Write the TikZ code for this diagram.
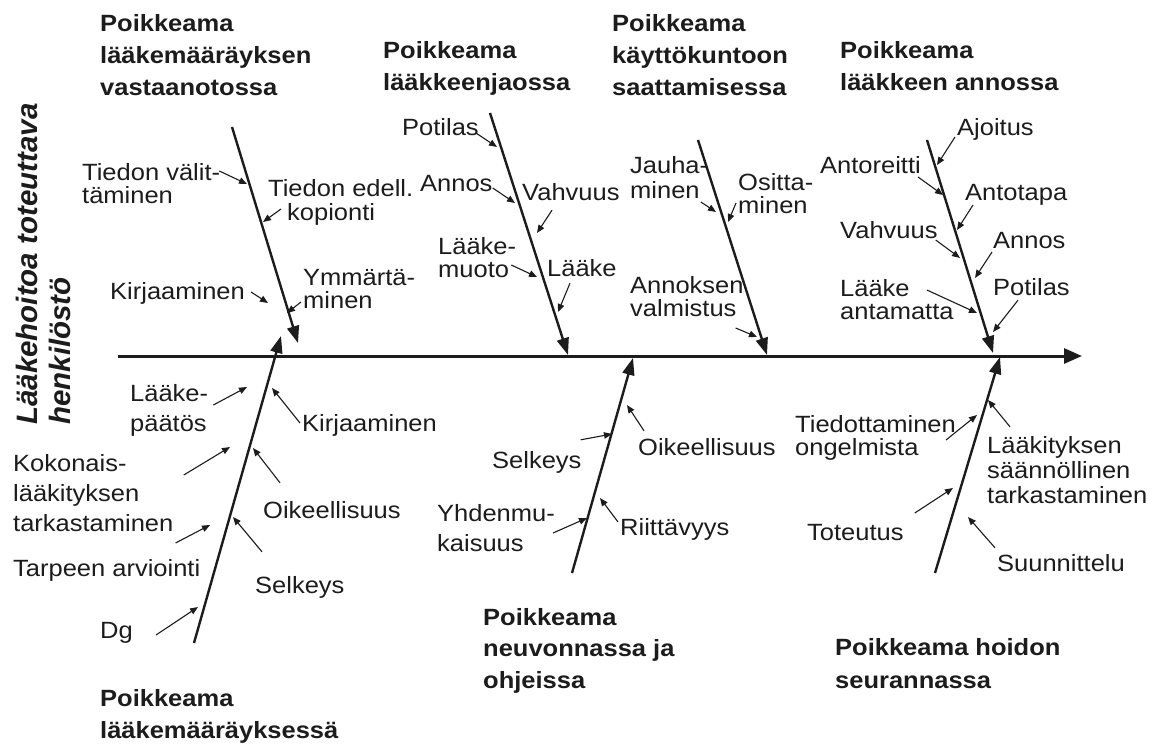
\documentclass[tikz,border=0pt]{standalone}
\usepackage{fontspec}
\setmainfont{Liberation Sans}[FakeStretch=1.085]
\newfontfamily\sidefont{Liberation Sans}
\usetikzlibrary{arrows.meta}
\definecolor{ink}{RGB}{28,28,28}
\tikzset{
  lbl/.style={anchor=west, inner sep=0pt, text height=15pt, text depth=3pt,
    text=ink, font=\fontsize{23.5}{28}\selectfont},
  ttl/.style={lbl, font=\fontsize{23.5}{28}\selectfont\bfseries},
  side/.style={rotate=90, anchor=base west, inner sep=0pt, text=ink,
    font={\sidefont\bfseries\itshape\fontsize{29.5}{33}\selectfont}},
  spine/.style={line width=3pt, draw=ink, -{Triangle[length=18pt,width=15pt]}},
  bone/.style={line width=2.4pt, draw=ink, -{Triangle[length=17pt,width=12pt]}},
  cause/.style={line width=1.1pt, draw=ink, -{Triangle[length=8pt,width=6.5pt]}},
}
\begin{document}
\begin{tikzpicture}[x=1pt,y=-1pt]
\useasboundingbox (0,0) rectangle (1162,744);
\fill[white] (0,0) rectangle (1162,744);

% side label
\node[side] (sd1) at (37,425) {Lääkehoitoa toteuttava};
\node[side] (sd2) at (70,425) {henkilöstö};

% spine
\coordinate (sp0) at (118,356);
\coordinate (sp1) at (1082,356);
\draw[spine] (sp0) -- (sp1);

% bones
\coordinate (b1s) at (232,127); \coordinate (b1e) at (298,343);
\coordinate (b2s) at (194,643); \coordinate (b2e) at (281,336);
\coordinate (b3s) at (490,113); \coordinate (b3e) at (568,355);
\coordinate (b4s) at (698,140); \coordinate (b4e) at (767,355);
\coordinate (b5s) at (927,140); \coordinate (b5e) at (993,353);
\coordinate (b6s) at (572,573); \coordinate (b6e) at (633,358);
\coordinate (b7s) at (935,573); \coordinate (b7e) at (1000,357);
\foreach \b in {1,...,7} \draw[bone] (b\b s) -- (b\b e);

% ---- prescription reception
\node[ttl] (t1a) at (100,25) {Poikkeama};
\node[ttl] (t1b) at (100,57) {lääkemääräyksen};
\node[ttl] (t1c) at (100,89) {vastaanotossa};
\node[lbl] (tv1) at (82,174) {Tiedon välit-};
\node[lbl] (tv2) at (82,197) {täminen};
\node[lbl] (te1) at (268,190) {Tiedon edell.};
\node[lbl] (te2) at (287,214) {kopionti};
\node[lbl] (kj1) at (110,293) {Kirjaaminen};
\node[lbl] (ym1) at (303,279) {Ymmärtä-};
\node[lbl] (ym2) at (303,302) {minen};
\coordinate (k11) at (247,184);
\coordinate (k12) at (263,222);
\coordinate (k13) at (268,303);
\coordinate (k14) at (287,313);
\draw[cause] ([xshift=-1pt,yshift=3pt]tv1.east) -- (k11);
\draw[cause] ([xshift=-6pt,yshift=5pt]te2.west) -- (k12);
\draw[cause] ([xshift=6pt,yshift=1pt]kj1.east) -- (k13);
\draw[cause] ([xshift=-2pt]ym2.west) -- (k14);

% ---- prescription
\node[ttl] (t2a) at (100,700) {Poikkeama};
\node[ttl] (t2b) at (100,732) {lääkemääräyksessä};
\node[lbl] (lp1) at (130,395) {Lääke-};
\node[lbl] (lp2) at (130,425) {päätös};
\node[lbl] (kj2) at (302,425) {Kirjaaminen};
\node[lbl] (ko1) at (13,465) {Kokonais-};
\node[lbl] (ko2) at (13,495) {lääkityksen};
\node[lbl] (ko3) at (13,525) {tarkastaminen};
\node[lbl] (oi1) at (263,512) {Oikeellisuus};
\node[lbl] (ta1) at (13,570) {Tarpeen arviointi};
\node[lbl] (se1) at (255,587) {Selkeys};
\node[lbl] (dg) at (100,632) {Dg};
\coordinate (k21) at (247,387);
\coordinate (k22) at (272,388);
\coordinate (k23) at (230,447);
\coordinate (k24) at (253,448);
\coordinate (k25) at (210,525);
\coordinate (k26) at (233,517);
\coordinate (k27) at (198,607);
\draw[cause] ([xshift=5pt,yshift=-10pt]lp1.east) -- (k21);
\draw[cause] ([xshift=-2pt,yshift=2pt]kj2.west) -- (k22);
\draw[cause] ([xshift=57pt,yshift=-10pt]ko1.east) -- (k23);
\draw[cause] ([xshift=17pt,yshift=20pt]oi1.north west) -- (k24);
\draw[cause] ([xshift=2pt,yshift=-18pt]ko3.east) -- (k25);
\draw[cause] ([xshift=7pt,yshift=26pt]se1.north west) -- (k26);
\draw[cause] ([xshift=23pt,yshift=-3pt]dg.east) -- (k27);

% ---- dispensing
\node[ttl] (t3a) at (383,52) {Poikkeama};
\node[ttl] (t3b) at (383,84) {lääkkeenjaossa};
\node[lbl] (po1) at (402,129) {Potilas};
\node[lbl] (an1) at (420,185) {Annos};
\node[lbl] (va1) at (522,194) {Vahvuus};
\node[lbl] (lm1) at (438,248) {Lääke-};
\node[lbl] (lm2) at (438,271) {muoto};
\node[lbl] (lk1) at (547,270) {Lääke};
\coordinate (k31) at (497,147);
\coordinate (k32) at (515,203);
\coordinate (k33) at (537,233);
\coordinate (k34) at (537,277);
\coordinate (k35) at (558,312);
\draw[cause] ([xshift=-3pt,yshift=-4pt]po1.east) -- (k31);
\draw[cause] ([yshift=-3pt]an1.east) -- (k32);
\draw[cause] ([xshift=30pt,yshift=-7pt]va1.south west) -- (k33);
\draw[cause] ([xshift=2pt,yshift=6pt]lm2.east) -- (k34);
\draw[cause] ([xshift=23pt,yshift=-4pt]lk1.south west) -- (k35);

% ---- preparation
\node[ttl] (t4a) at (612,25) {Poikkeama};
\node[ttl] (t4b) at (612,57) {käyttökuntoon};
\node[ttl] (t4c) at (612,89) {saattamisessa};
\node[lbl] (ja1) at (630,167) {Jauha-};
\node[lbl] (ja2) at (630,192) {minen};
\node[lbl] (os1) at (738,184) {Ositta-};
\node[lbl] (os2) at (738,207) {minen};
\node[lbl] (ak1) at (630,287) {Annoksen};
\node[lbl] (ak2) at (630,310) {valmistus};
\coordinate (k41) at (716,212);
\coordinate (k42) at (728,222);
\coordinate (k43) at (757,337);
\draw[cause] ([xshift=1pt,yshift=-10pt]ja2.east) -- (k41);
\draw[cause] ([xshift=-2pt,yshift=4pt]os2.west) -- (k42);
\draw[cause] ([xshift=-1pt,yshift=-18pt]ak2.east) -- (k43);

% ---- administration
\node[ttl] (t5a) at (840,52) {Poikkeama};
\node[ttl] (t5b) at (840,84) {lääkkeen annossa};
\node[lbl] (aj) at (957,129) {Ajoitus};
\node[lbl] (ar) at (820,167) {Antoreitti};
\node[lbl] (at) at (965,194) {Antotapa};
\node[lbl] (vh) at (840,232) {Vahvuus};
\node[lbl] (as) at (993,242) {Annos};
\node[lbl] (la1) at (840,290) {Lääke};
\node[lbl] (la2) at (840,313) {antamatta};
\node[lbl] (pt) at (993,289) {Potilas};
\coordinate (k51) at (937,165);
\coordinate (k52) at (943,195);
\coordinate (k53) at (957,230);
\coordinate (k54) at (960,258);
\coordinate (k55) at (975,278);
\coordinate (k56) at (977,313);
\coordinate (k57) at (993,332);
\draw[cause] ([xshift=-2pt,yshift=-8pt]aj.west) -- (k51);
\draw[cause] ([xshift=-3pt,yshift=-10pt]ar.east) -- (k52);
\draw[cause] ([xshift=8pt,yshift=-11pt]at.west) -- (k53);
\draw[cause] ([xshift=-2pt,yshift=-8pt]vh.east) -- (k54);
\draw[cause] ([xshift=-1pt,yshift=-10pt]as.west) -- (k55);
\draw[cause] ([xshift=17pt]la1.east) -- (k56);
\draw[cause] ([xshift=25pt,yshift=-2pt]pt.south west) -- (k57);

% ---- counselling
\node[ttl] (t6a) at (483,619) {Poikkeama};
\node[ttl] (t6b) at (483,650) {neuvonnassa ja};
\node[ttl] (t6c) at (483,682) {ohjeissa};
\node[lbl] (sk) at (492,462) {Selkeys};
\node[lbl] (ok) at (638,449) {Oikeellisuus};
\node[lbl] (yh1) at (437,515) {Yhdenmu-};
\node[lbl] (yh2) at (437,545) {kaisuus};
\node[lbl] (rt) at (620,529) {Riittävyys};
\coordinate (k61) at (612,434);
\coordinate (k62) at (627,405);
\coordinate (k63) at (587,518);
\coordinate (k64) at (600,498);
\draw[cause] ([xshift=-1pt,yshift=13pt]sk.north east) -- (k61);
\draw[cause] ([xshift=6pt,yshift=9pt]ok.north west) -- (k62);
\draw[cause] ([xshift=-2pt,yshift=-18pt]yh1.east) -- (k63);
\draw[cause] ([xshift=-2pt,yshift=7pt]rt.west) -- (k64);

% ---- follow-up
\node[ttl] (t7a) at (835,649) {Poikkeama hoidon};
\node[ttl] (t7b) at (835,682) {seurannassa};
\node[lbl] (td1) at (795,426) {Tiedottaminen};
\node[lbl] (td2) at (795,449) {ongelmista};
\node[lbl] (lt1) at (987,447) {Lääkityksen};
\node[lbl] (lt2) at (987,472) {säännöllinen};
\node[lbl] (lt3) at (987,497) {tarkastaminen};
\node[lbl] (tt) at (807,534) {Toteutus};
\node[lbl] (su) at (997,565) {Suunnittelu};
\coordinate (k71) at (977,415);
\coordinate (k72) at (988,400);
\coordinate (k73) at (953,488);
\coordinate (k74) at (968,517);
\draw[cause] ([xshift=-10pt,yshift=-14pt]td1.east) -- (k71);
\draw[cause] ([xshift=23pt,yshift=11pt]lt1.north west) -- (k72);
\draw[cause] ([xshift=11pt,yshift=21pt]tt.east) -- (k73);
\draw[cause] ([xshift=-2pt,yshift=8pt]su.north west) -- (k74);
\end{tikzpicture}
\end{document}
